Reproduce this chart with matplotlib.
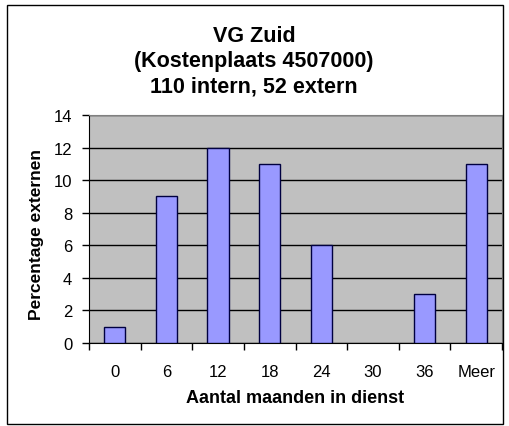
import numpy as np
import matplotlib.pyplot as plt
from matplotlib.patches import Rectangle

plt.rcParams['font.family'] = ['Liberation Sans', 'DejaVu Sans']

# Data
categories = ["0", "6", "12", "18", "24", "30", "36", "Meer"]
values = [1, 9, 12, 11, 6, 0, 3, 11]
yticks = [0, 2, 4, 6, 8, 10, 12, 14]

W, H = 509, 427
fig = plt.figure(figsize=(W / 100, H / 100), dpi=100)

# outer chart border
fig.patches.append(Rectangle((7 / W, 1 - 425 / H), 496 / W, 419 / H, transform=fig.transFigure,
                             fill=False, edgecolor='black', linewidth=1))

ax = fig.add_axes([89 / W, 1 - 344 / H, (502 - 89) / W, (344 - 116) / H])
ax.set_facecolor('#C0C0C0')

x = np.arange(len(categories))
bars = ax.bar(x, values, width=0.41, color='#9999FF', edgecolor='#000040', linewidth=1, zorder=3)
for b, v in zip(bars, values):
    if v == 0:
        b.set_visible(False)  # Excel draws nothing for an empty bin

ax.set_xlim(-0.5, len(categories) - 0.5)
ax.set_ylim(0, 14)
ax.set_yticks(yticks)
ax.yaxis.grid(True, color='black', linewidth=1, zorder=1)
ax.set_axisbelow(True)

ax.set_xticks(x)
ax.set_xticklabels(categories, fontsize=12)
ax.tick_params(axis='x', length=0, pad=15)
ax.set_xticks(np.arange(-0.5, len(categories)), minor=True)
ax.tick_params(axis='x', which='minor', length=5, direction='out', width=1)
ax.tick_params(axis='y', labelsize=12, length=5, direction='out', width=1, pad=7)

for s in ['top', 'right']:
    ax.spines[s].set_color('#808080')
for s in ['left', 'bottom']:
    ax.spines[s].set_color('black')

fig.text(295 / W, 1 - 399 / H, 'Aantal maanden in dienst', ha='center', va='center',
         fontsize=13, fontweight='bold')
fig.text(37 / W, 1 - 234 / H, 'Percentage externen', ha='center', va='center',
         rotation=90, fontsize=12.5, fontweight='bold')

fig.text(254 / W, 1 - 62 / H, 'VG Zuid\n(Kostenplaats 4507000)\n110 intern, 52 extern',
         ha='center', va='center', fontsize=15.5, fontweight='bold', linespacing=1.27)

fig.savefig('out.png', dpi=100)
